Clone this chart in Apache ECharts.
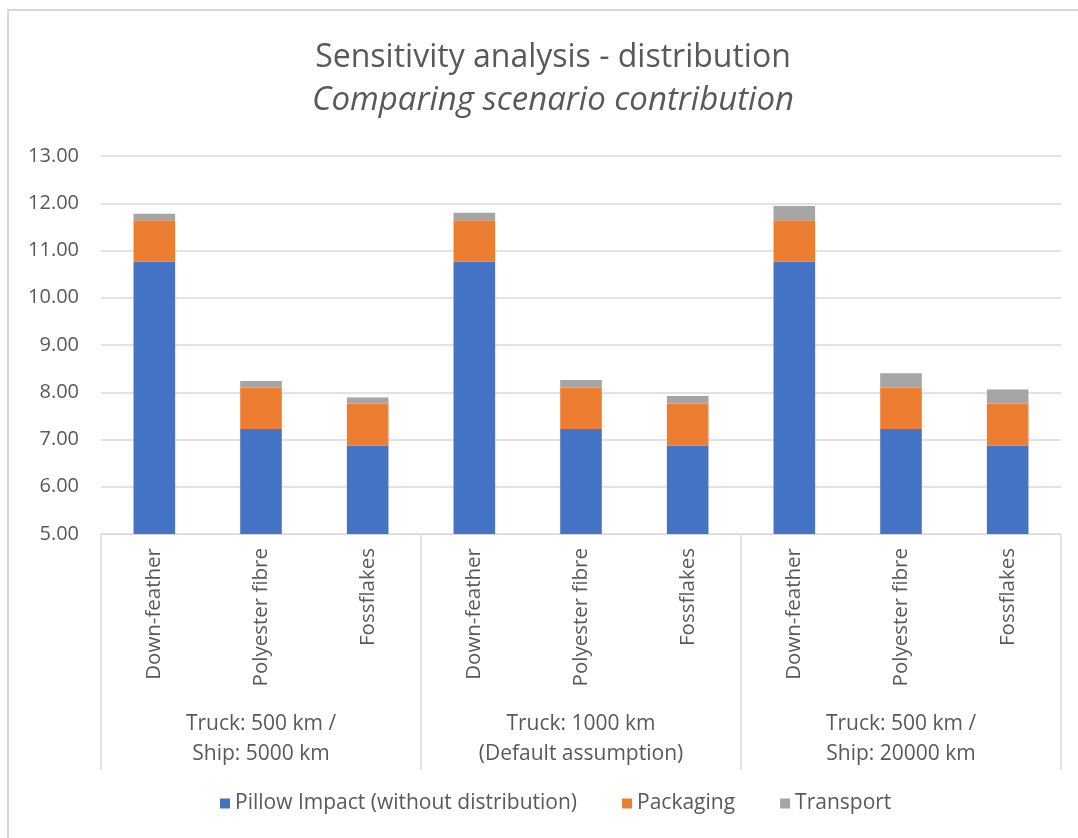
<!DOCTYPE html>
<html>
<head>
<meta charset="utf-8">
<script src="https://cdn.jsdelivr.net/npm/echarts@6/dist/echarts.min.js"></script>
<style>
  html, body { margin: 0; padding: 0; background: #fff; }
  #chart { width: 1078px; height: 838px; }
</style>
</head>
<body>
<div id="chart"></div>
<script>
// materials, one per bar
const categories = [
  "Down-feather", "Polyester fibre", "Fossflakes",
  "Down-feather", "Polyester fibre", "Fossflakes",
  "Down-feather", "Polyester fibre", "Fossflakes"
];
// scenario groups
const groups = [
  "Truck: 500 km /\nShip: 5000 km",
  "Truck: 1000 km\n(Default assumption)",
  "Truck: 500 km /\nShip: 20000 km"
];
const pillowImpact = [10.76, 7.22, 6.87, 10.76, 7.22, 6.87, 10.76, 7.22, 6.87];
const packaging = [0.88, 0.88, 0.89, 0.88, 0.88, 0.89, 0.88, 0.88, 0.89];
const transport = [0.14, 0.14, 0.13, 0.16, 0.16, 0.16, 0.30, 0.30, 0.30];

const textColor = "#595959";
const gridColor = "#d9d9d9";
const font = "'Open Sans', 'DejaVu Sans', sans-serif";

const chart = echarts.init(document.getElementById("chart"));

chart.setOption({
  animation: false,
  title: {
    text: "Sensitivity analysis - distribution",
    subtext: "Comparing scenario contribution",
    left: 548,
    textAlign: "center",
    top: 37,
    itemGap: 10,
    textStyle: { fontFamily: font, fontSize: 32, fontWeight: "normal", color: textColor },
    subtextStyle: { fontFamily: font, fontSize: 33, fontStyle: "italic", color: textColor }
  },
  // chart frame, cut off at right and bottom like the screenshot
  graphic: [{
    type: "rect",
    shape: { x: 8, y: 10, width: 1100, height: 900 },
    style: { fill: "none", stroke: gridColor, lineWidth: 2 },
    silent: true
  }],
  legend: {
    bottom: 19,
    left: 215,
    itemWidth: 10,
    itemHeight: 10,
    itemGap: 45,
    icon: "rect",
    textStyle: { fontFamily: font, fontSize: 21, color: textColor }
  },
  grid: { left: 101, right: 17, top: 156, bottom: 304 },
  xAxis: [
    {
      type: "category",
      data: categories,
      axisLine: { lineStyle: { color: gridColor } },
      axisTick: { show: false },
      axisLabel: {
        rotate: 90,
        margin: 14,
        fontFamily: font,
        fontSize: 20.5,
        color: textColor,
        interval: 0
      }
    },
    {
      type: "category",
      data: groups,
      position: "bottom",
      axisLine: { show: false },
      axisTick: { show: true, length: 236, lineStyle: { color: gridColor, width: 1.5 } },
      axisLabel: {
        margin: 175,
        fontFamily: font,
        fontSize: 21,
        lineHeight: 30,
        color: textColor,
        interval: 0
      }
    }
  ],
  yAxis: {
    type: "value",
    min: 5,
    max: 13,
    interval: 1,
    axisLine: { show: false },
    axisTick: { show: false },
    splitLine: { lineStyle: { color: gridColor, width: 1.5 } },
    axisLabel: {
      margin: 22,
      fontFamily: font,
      fontSize: 20,
      color: textColor,
      formatter: v => v.toFixed(2)
    }
  },
  series: [
    {
      name: "Pillow Impact (without distribution)",
      type: "bar",
      stack: "total",
      barWidth: "39%",
      data: pillowImpact,
      itemStyle: { color: "#4472C4" }
    },
    {
      name: "Packaging",
      type: "bar",
      stack: "total",
      data: packaging,
      itemStyle: { color: "#ED7D31" }
    },
    {
      name: "Transport",
      type: "bar",
      stack: "total",
      data: transport,
      itemStyle: { color: "#A5A5A5" }
    }
  ]
});
</script>
</body>
</html>
